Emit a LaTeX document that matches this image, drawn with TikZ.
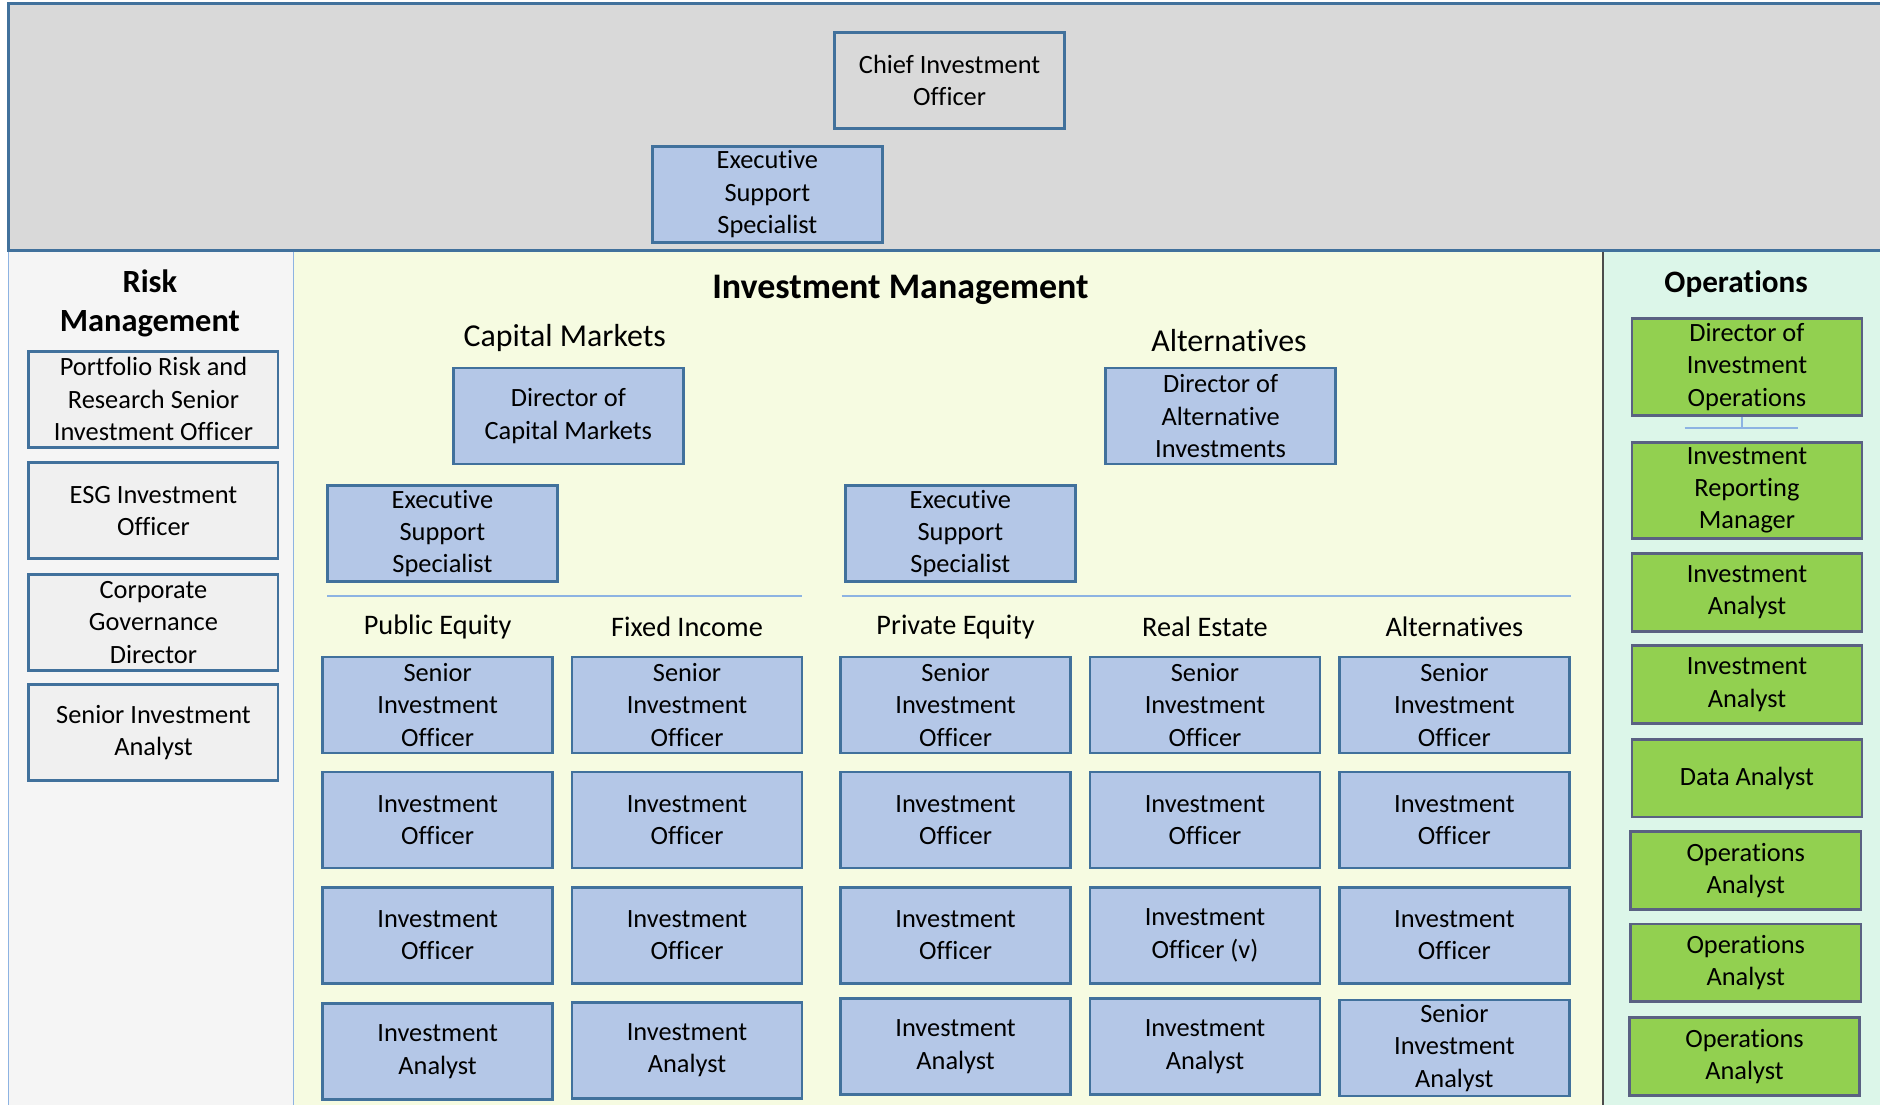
\documentclass[tikz,border=0pt]{standalone}
\usepackage{fontspec}
\setmainfont{Carlito}[Ligatures=NoCommon]
\usepackage{tikz}
\usetikzlibrary{positioning}
\definecolor{panelgray}{HTML}{D9D9D9}
\definecolor{riskbg}{HTML}{F5F5F5}
\definecolor{riskbox}{HTML}{F0F0F0}
\definecolor{investbg}{HTML}{F6FBE1}
\definecolor{opsbg}{HTML}{DCF6E9}
\definecolor{boxblue}{HTML}{B4C7E7}
\definecolor{boxgreen}{HTML}{92D050}
\definecolor{edgeblue}{HTML}{41719C}
\definecolor{edgeslate}{HTML}{5A6182}
\definecolor{lineblue}{HTML}{8DB3E2}
\tikzset{
    rolebox/.style={
        draw=edgeblue,
        line width=1.1pt,
        fill=boxblue,
        minimum width=96pt,
        minimum height=40pt,
        inner sep=0pt,
        align=center,
        font=\fontsize{11}{13.5}\selectfont
    },
    % grey boxes of the risk team
    riskrole/.style={rolebox, fill=riskbox, minimum width=104pt},
    % green boxes of the operations team
    opsrole/.style={rolebox, draw=edgeslate, fill=boxgreen, minimum height=32.5pt},
    grouptitle/.style={font=\bfseries\fontsize{13}{16}\selectfont, align=center},
    subtitle/.style={font=\fontsize{13.3}{16}\selectfont},
    colhead/.style={font=\fontsize{11.8}{14}\selectfont},
    sepline/.style={lineblue, line width=0.6pt}
}

\begin{document}
\begin{tikzpicture}[x=0.5pt, y=-0.5pt]
   \useasboundingbox (0,0) rectangle (1568,922);

    % panels
    \fill[panelgray] (7,3) rectangle (1568,209);
    \draw[edgeblue, line width=1.2pt] (1568,3) -- (7,3) -- (7,209) -- (1568,209);
    \fill[riskbg] (7,210) rectangle (245,922);
    \fill[investbg] (245,210) rectangle (1337,922);
    \fill[opsbg] (1337,210) rectangle (1568,922);
    \draw[lineblue, line width=0.6pt] (7,210) -- (7,922);
    \draw[lineblue, line width=0.6pt] (245,210) -- (245,922);
    \draw[black!70, line width=0.9pt] (1337,210) -- (1337,922);

    % top
    \node[rolebox, fill=panelgray] (cio) at (792,67) {Chief Investment\\Officer};
    \node[rolebox] (ess) at (640,162) {Executive\\Support\\Specialist};

    % risk management
    \node[grouptitle, font=\bfseries\fontsize{13.5}{16}\selectfont] (risk) at (125,253) {Risk\\Management};
    \node[riskrole] (prr) at (128,333) {Portfolio Risk and\\Research Senior\\Investment Officer};
    \node[riskrole] (esg) at (128,426) {ESG Investment\\Officer};
    \node[riskrole] (cgd) at (128,519) {Corporate\\Governance\\Director};
    \node[riskrole] (sia) at (128,611) {Senior Investment\\Analyst};

    % investment management
    \node[grouptitle, font=\bfseries\fontsize{15}{18}\selectfont] (invest) at (751,242) {Investment Management};
    \node[subtitle] (capm) at (471,282) {Capital Markets};
    \node[subtitle] (altm) at (1025,284) {Alternatives};
    \node[rolebox] (dcm) at (474,347) {Director of\\Capital Markets};
    \node[rolebox] (dai) at (1018,347) {Director of\\Alternative\\Investments};
    \node[rolebox] (esscm) at (369,445) {Executive\\Support\\Specialist};
    \node[rolebox] (essalt) at (801,445) {Executive\\Support\\Specialist};
    \draw[sepline] (273,497) -- (669,497);
    \draw[sepline] (702,497) -- (1310,497);

    \node[colhead] (pubeq) at (365,523) {Public Equity};
    \node[colhead] (fixinc) at (573,523) {Fixed Income};
    \node[colhead] (priveq) at (797,523) {Private Equity};
    \node[colhead] (realest) at (1005,523) {Real Estate};
    \node[colhead] (altern) at (1213,523) {Alternatives};

    % public equity
    \node[rolebox] (pe1) at (365,588) {Senior\\Investment\\Officer};
    \node[rolebox] (pe2) at (365,684) {Investment\\Officer};
    \node[rolebox] (pe3) at (365,780) {Investment\\Officer};
    \node[rolebox] (pe4) at (365,877) {Investment\\Analyst};
    % fixed income
    \node[rolebox] (fi1) at (573,588) {Senior\\Investment\\Officer};
    \node[rolebox] (fi2) at (573,684) {Investment\\Officer};
    \node[rolebox] (fi3) at (573,780) {Investment\\Officer};
    \node[rolebox] (fi4) at (573,876) {Investment\\Analyst};
    % private equity
    \node[rolebox] (pv1) at (797,588) {Senior\\Investment\\Officer};
    \node[rolebox] (pv2) at (797,684) {Investment\\Officer};
    \node[rolebox] (pv3) at (797,780) {Investment\\Officer};
    \node[rolebox] (pv4) at (797,873) {Investment\\Analyst};
    % real estate
    \node[rolebox] (re1) at (1005,588) {Senior\\Investment\\Officer};
    \node[rolebox] (re2) at (1005,684) {Investment\\Officer};
    \node[rolebox] (re3) at (1005,780) {Investment\\Officer (v)};
    \node[rolebox] (re4) at (1005,873) {Investment\\Analyst};
    % alternatives
    \node[rolebox] (al1) at (1213,588) {Senior\\Investment\\Officer};
    \node[rolebox] (al2) at (1213,684) {Investment\\Officer};
    \node[rolebox] (al3) at (1213,780) {Investment\\Officer};
    \node[rolebox] (al4) at (1213,874) {Senior\\Investment\\Analyst};

    % operations
    \node[grouptitle] (ops) at (1448,237) {Operations};
    \node[opsrole, minimum height=40.5pt] (dio) at (1457,306) {Director of\\Investment\\Operations};
    \node[opsrole, minimum height=40pt] (irm) at (1457,409) {Investment\\Reporting\\Manager};
    \node[opsrole] (ia1) at (1457,494) {Investment\\Analyst};
    \node[opsrole] (ia2) at (1457,571) {Investment\\Analyst};
    \node[opsrole] (data) at (1457,649) {Data Analyst};
    \node[opsrole] (oa1) at (1456,726) {Operations\\Analyst};
    \node[opsrole] (oa2) at (1456,803) {Operations\\Analyst};
    \node[opsrole] (oa3) at (1455,881) {Operations\\Analyst};
    \coordinate (opsjoin) at (1453,357);
    \draw[sepline] (dio.south -| opsjoin) -- (opsjoin);
    \draw[sepline] (1405,357) -- (1500,357);

\end{tikzpicture}
\end{document}
